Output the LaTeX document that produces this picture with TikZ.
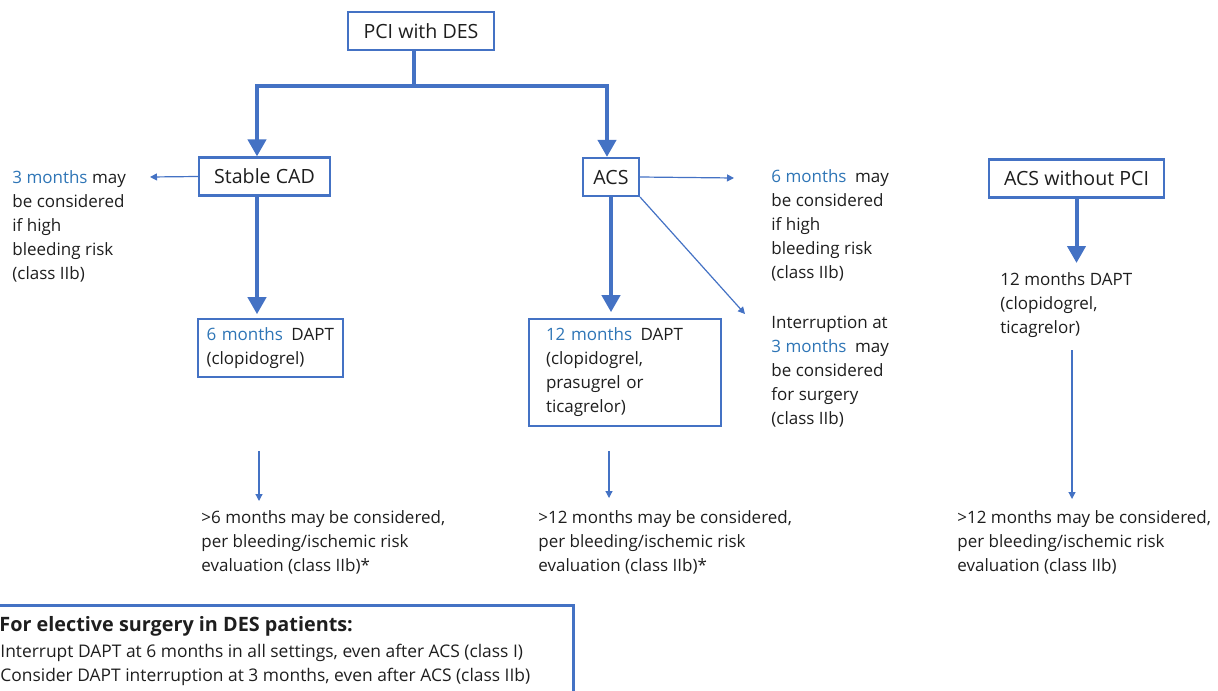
\documentclass[tikz,border=0pt]{standalone}
\usepackage{fontspec}
\setmainfont{Open Sans}
\usepackage{tikz}
\usetikzlibrary{
  arrows.meta,
  positioning,
  calc
}
\definecolor{lineblue}{RGB}{68,114,196}
\definecolor{monthblue}{RGB}{46,117,182}
\definecolor{ink}{RGB}{30,30,30}
\newcommand{\mth}[1]{\textcolor{monthblue}{#1}}
\newcommand{\bodyfont}{\fontsize{8.5}{12}\selectfont}
\newcommand{\boxfont}{\fontsize{9.8}{12}\selectfont}
\newcommand{\surghead}{\fontsize{9.9}{12}\selectfont\bfseries}
\newcommand{\surgfont}{\fontsize{8.7}{12}\selectfont}

\begin{document}
\begin{tikzpicture}[x=0.5pt, y=-0.5pt,
    every node/.style={text=ink, font=\bodyfont, inner sep=0pt},
    titlebox/.style={draw=lineblue, line width=1.1pt, font=\boxfont, minimum height=19pt},
    daptbox/.style={draw=lineblue, line width=0.8pt, align=left, minimum height=29pt},
    note/.style={anchor=north west, align=left},
    bigline/.style={draw=lineblue, line width=2pt},
    bigarrow/.style={bigline, -{Triangle[width=9pt,length=8.5pt]}},
    thinarrow/.style={draw=lineblue, line width=0.6pt, -{Triangle[width=3.5pt,length=3.5pt]}}]
  \useasboundingbox (0,0) rectangle (1218,690);
  \clip (0,0) rectangle (1218,690);

  % Top of the tree
  \node[titlebox, minimum width=73pt] (pci) at (421,31) {PCI with DES};
  \coordinate (split) at (414,86);
  \coordinate (lbend) at (257,86);
  \coordinate (rbend) at (607,86);

  % Stable CAD branch
  \node[titlebox, minimum width=65.5pt] (stable) at (264.5,176.5) {Stable CAD};
  \node[daptbox, inner xsep=4.25pt, text width=64pt] (dapt6) at (270.5,348) {\mth{6 months}\enspace DAPT\\(clopidogrel)};
  \node[note] (cadnote) at (12,170) {\mth{3 months} may\\be considered\\if high\\bleeding risk\\(class IIb)};
  \node[note] (ext6) at (201,510) {>6 months may be considered,\\per bleeding/ischemic risk\\evaluation (class IIb)*};
  \coordinate (cadleft) at (150,177);
  \coordinate (cadgap) at (259,451);

  % ACS branch
  \node[titlebox, minimum width=28pt] (acs) at (611,177) {ACS};
  \node[daptbox, inner xsep=8.5pt, text width=79pt, minimum height=53.5pt] (dapt12) at (625,372.5) {\mth{12 months}\enspace DAPT\\(clopidogrel,\\prasugrel or\\ticagrelor)};
  \node[note] (acsnote) at (771,169) {\mth{6 months}\enspace may\\be considered\\if high\\bleeding risk\\(class IIb)};
  \node[note] (intnote) at (771,316) {Interruption at\\\mth{3 months}\enspace may\\be considered\\for surgery\\(class IIb)};
  \node[note] (ext12) at (538,510) {>12 months may be considered,\\per bleeding/ischemic risk\\evaluation (class IIb)*};
  \coordinate (acsright) at (734,178);
  \coordinate (acsdiag) at (745,314);
  \coordinate (acsgap) at (609,451);

  % ACS without PCI
  \node[titlebox, minimum width=87.5pt] (nopci) at (1076.5,178.5) {ACS without PCI};
  \node[note] (nopcitxt) at (1000,272) {12 months DAPT\\(clopidogrel,\\ticagrelor)};
  \node[note] (ext12b) at (957,510) {>12 months may be considered,\\per bleeding/ischemic risk\\evaluation (class IIb)};
  \coordinate (nopcigap) at (1072,350);

  % Surgery box
  \node[draw=lineblue, line width=1.5pt, minimum width=296.5pt, minimum height=57.5pt] (surgery) at (276.5,662.5) {};
  \node[note, font=\surghead] (surgtitle) at (-1,616) {For elective surgery in DES patients:};
  \node[note, font=\surgfont] (surgtxt) at (0,644) {Interrupt DAPT at 6 months in all settings, even after ACS (class I)\\Consider DAPT interruption at 3 months, even after ACS (class IIb)};

  % Thick arrows
  \draw[bigline] (pci.south -| split) -- (split);
  \draw[bigarrow] (split) -| (stable.north -| lbend);
  \draw[bigarrow] (split) -| (acs.north -| rbend);
  \draw[bigarrow, shorten >=2pt] (stable.south -| lbend) -- (dapt6.north -| lbend);
  \draw[bigarrow, shorten >=3pt] (acs.south) -- (acs.south |- dapt12.north);
  \draw[bigarrow, shorten >=4.5pt] (nopci.south) -- (nopci.south |- nopcitxt.north);

  % Thin arrows
  \draw[thinarrow] (stable.west) -- (cadleft);
  \draw[thinarrow] (acs.east) -- (acsright);
  \draw[thinarrow] (acs.south east) -- (acsdiag);
  \draw[thinarrow, shorten >=4.5pt] (cadgap) -- (cadgap |- ext6.north);
  \draw[thinarrow, shorten >=6pt] (acsgap) -- (acsgap |- ext12.north);
  \draw[thinarrow, shorten >=5.5pt] (nopcigap) -- (nopcigap |- ext12b.north);
\end{tikzpicture}
\end{document}
